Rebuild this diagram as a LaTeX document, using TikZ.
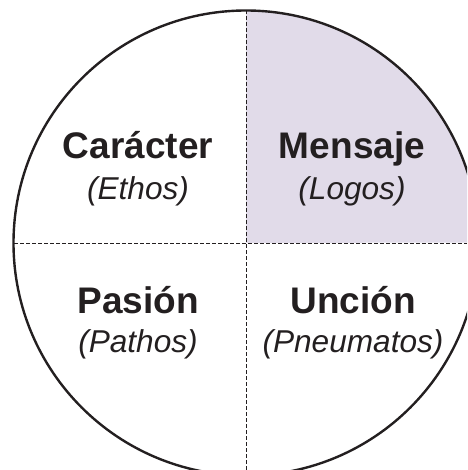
\documentclass[tikz,border=0pt]{standalone}
\usepackage{fontspec}
\setmainfont{Liberation Sans}
\definecolor{ink}{HTML}{231F20}
\definecolor{lilac}{HTML}{E1DBE9}
\tikzset{
  title/.style={anchor=base,inner sep=0pt,text=ink,font=\fontsize{37}{40}\selectfont\bfseries},
  sub/.style={anchor=base,inner sep=0pt,text=ink,font=\fontsize{31.6}{35}\selectfont\itshape},
  rim/.style={draw=ink,line width=2.4pt},
  cut/.style={draw=ink,line width=1pt,dash pattern=on 3.6pt off 2.4pt},
}
\begin{document}
\begin{tikzpicture}[x=1pt,y=-1pt]
\useasboundingbox (0,0) rectangle (467,470);
\clip (0,0) rectangle (467,470);
\coordinate (c) at (246,243);
\coordinate (t) at (246,10);
\coordinate (b) at (246,470);
\coordinate (l) at (14,243);
\coordinate (r) at (467,243);
\fill[lilac] (246,11) arc[start angle=-90,end angle=0,radius=231.5] -- (246,243) -- cycle;
\draw[rim] (c) circle[radius=232.5];
\draw[cut] (t) -- (b);
\draw[cut] (l) -- (r);
\node[title] (a1) at (138,158.5) {Carácter};
\node[sub] (a2) at (138,199) {(Ethos)};
\node[title] (b1) at (352,158.5) {Mensaje};
\node[sub] (b2) at (352,199) {(Logos)};
\node[title] (c1) at (138,313) {Pasión};
\node[sub] (c2) at (138,352) {(Pathos)};
\node[title] (d1) at (353,313) {Unción};
\node[sub] (d2) at (353,352) {(Pneumatos)};
\end{tikzpicture}
\end{document}
